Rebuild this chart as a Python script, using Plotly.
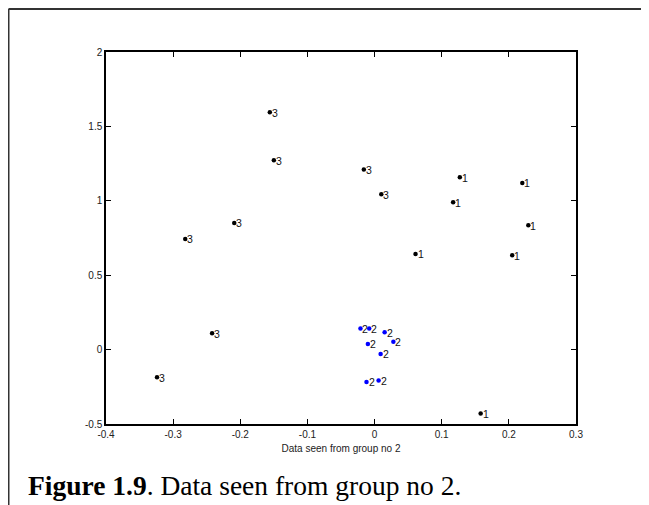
import plotly.graph_objects as go

# Data
g1_x = [0.127, 0.117, 0.061, 0.220, 0.229, 0.205, 0.158]
g1_y = [1.158, 0.990, 0.643, 1.120, 0.835, 0.634, -0.430]
g2_x = [-0.021, -0.008, 0.015, 0.028, -0.010, 0.009, -0.012, 0.006]
g2_y = [0.141, 0.141, 0.116, 0.052, 0.038, -0.029, -0.217, -0.208]
g3_x = [-0.156, -0.150, -0.209, -0.282, -0.016, 0.010, -0.242, -0.324]
g3_y = [1.595, 1.272, 0.851, 0.744, 1.210, 1.044, 0.110, -0.186]
groups = [("1", g1_x, g1_y, "black"), ("2", g2_x, g2_y, "blue"), ("3", g3_x, g3_y, "black")]

x_ticks = [-0.4, -0.3, -0.2, -0.1, 0, 0.1, 0.2, 0.3]
y_ticks = [-0.5, 0, 0.5, 1, 1.5, 2]

# The page body adds an 8px margin, so the figure is 8px smaller than the window
W, H = 641, 497
L, R, T, B = 98, 73, 44, 81
pw, ph = W - L - R, H - T - B

def px2paper(px, py):
    return (px - L) / pw, (H - B - py) / ph

fig = go.Figure()
label_font = dict(family="Liberation Sans, Arial, sans-serif", size=10.5, color="#111")
for lab, xs, ys, col in groups:
    fig.add_trace(go.Scatter(
        x=xs, y=ys, mode="markers",
        marker=dict(size=4.5, color=col),
        showlegend=False, cliponaxis=False,
    ))
    for xv, yv in zip(xs, ys):
        fig.add_annotation(x=xv, y=yv, text=lab, showarrow=False,
                           xanchor="left", yanchor="middle", xshift=1, yshift=-0.5,
                           borderpad=0, font=label_font)

axis_common = dict(
    showgrid=False, zeroline=False, showline=True, linecolor="black", linewidth=1.5,
    mirror="ticks", ticks="inside", ticklen=5, tickwidth=1, tickcolor="black",
    tickfont=dict(family="Liberation Sans, Arial, sans-serif", size=10, color="#222"),
)
fig.update_xaxes(range=[-0.4, 0.3], tickvals=x_ticks,
                 ticktext=[f"{v:g}" for v in x_ticks],
                 title=dict(text="Data seen from group no 2", standoff=6,
                            font=dict(family="Liberation Sans, Arial, sans-serif", size=10, color="#222")),
                 **axis_common)
fig.update_yaxes(range=[-0.5, 2], tickvals=y_ticks,
                 ticktext=[f"{v:g}" for v in y_ticks], **axis_common)

# Outer frame (top and left borders)
fx, fy_top = px2paper(0.5, 1)
_, fy_bot = px2paper(0.5, 520)
fx_right, _ = px2paper(660, 1)
fig.add_shape(type="line", xref="paper", yref="paper", x0=fx, y0=fy_bot, x1=fx, y1=fy_top,
              line=dict(color="#333", width=2))
fig.add_shape(type="line", xref="paper", yref="paper", x0=fx, y0=fy_top, x1=fx_right, y1=fy_top,
              line=dict(color="#333", width=2))

cx, cy = px2paper(18, 477)
fig.add_annotation(xref="paper", yref="paper", x=cx, y=cy, xanchor="left", yanchor="middle",
                   showarrow=False,
                   text="<b>Figure 1.9</b>. Data seen from group no 2.",
                   font=dict(family="Liberation Serif, Times New Roman, serif", size=27.5, color="black"))

fig.update_layout(width=W, height=H, margin=dict(l=L, r=R, t=T, b=B),
                  plot_bgcolor="white", paper_bgcolor="white")
fig.write_html("out.html")
